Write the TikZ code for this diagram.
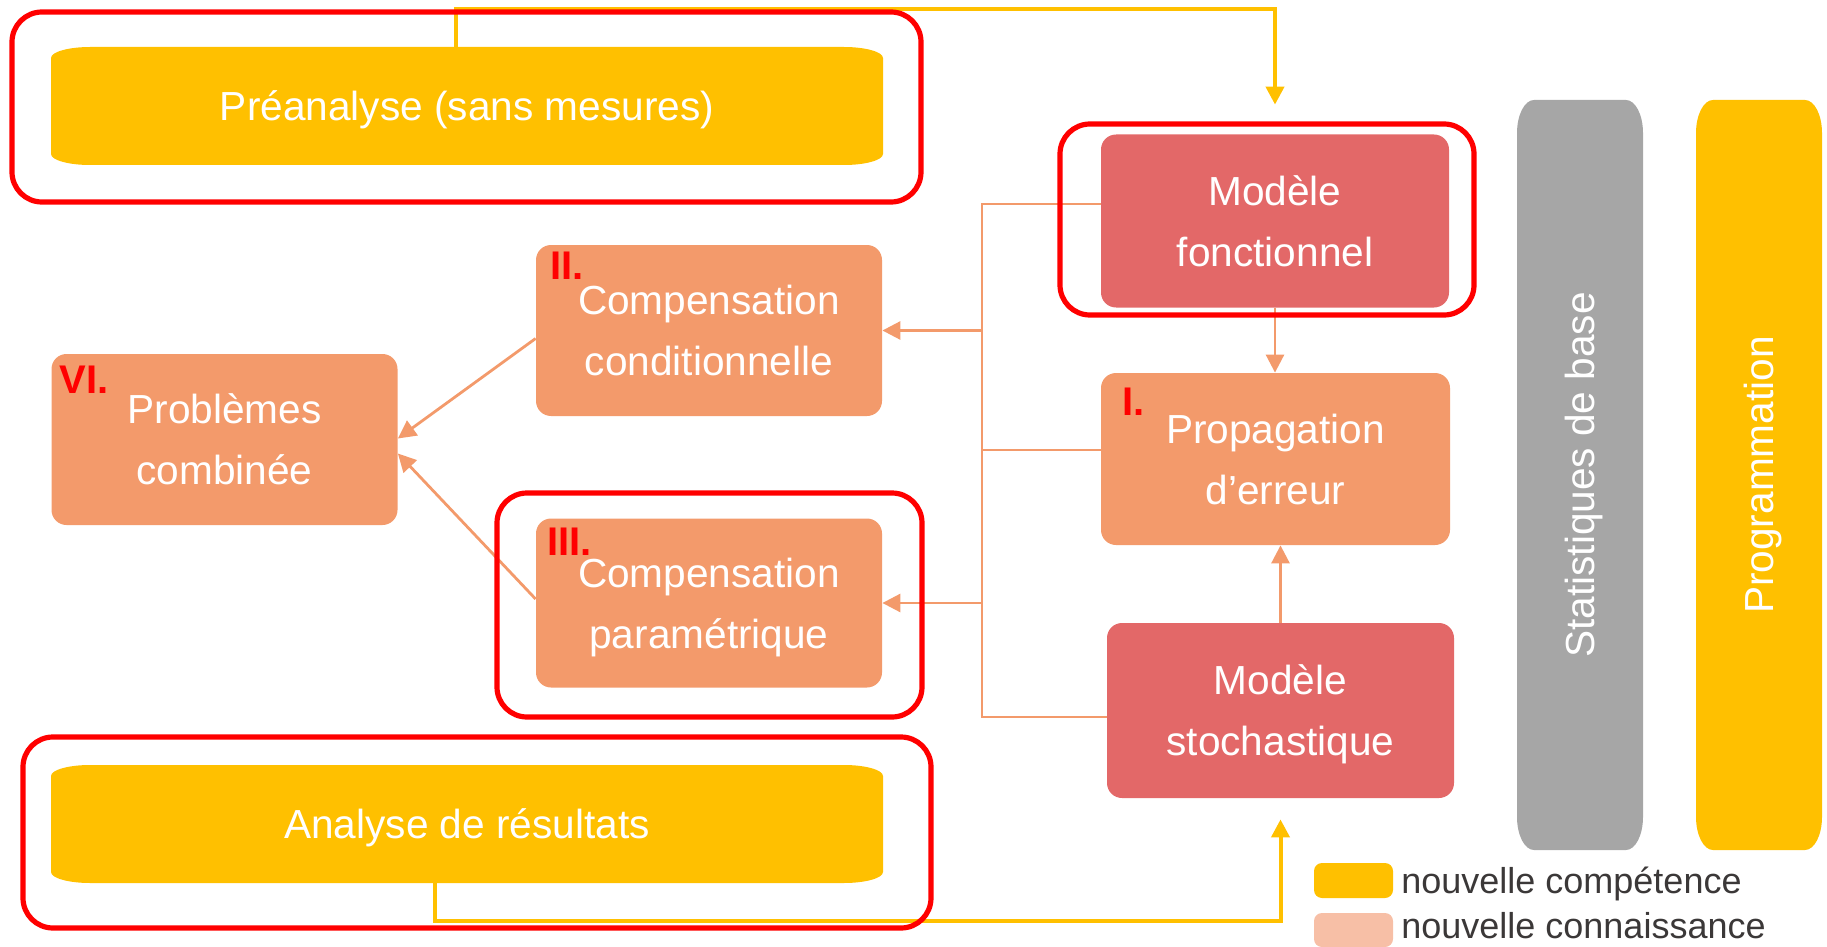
\documentclass[tikz,border=0pt]{standalone}
\usepackage{fontspec}
\setmainfont{Liberation Sans}
\usetikzlibrary{arrows.meta,positioning}
\definecolor{ylw}{HTML}{FFC000}
\definecolor{orng}{HTML}{F39A6B}
\definecolor{rose}{HTML}{E36868}
\definecolor{grey}{HTML}{A6A6A6}
\definecolor{lpink}{HTML}{F7BFA6}
\definecolor{dgray}{HTML}{3B3838}

\begin{document}
\begin{tikzpicture}[x=0.5pt,y=0.5pt,
  box/.style={rounded corners=7.5pt, fill=orng, text=white, align=center, inner sep=0pt, minimum width=173pt, minimum height=85.5pt, text depth=0pt, font=\fontsize{20.3}{30.5}\selectfont},
  modbox/.style={box, fill=rose},
  bartext/.style={text=white, inner sep=0pt, text height=14.5pt, text depth=0pt, font=\fontsize{20.3}{24}\selectfont},
  frame/.style={draw=red, line width=2.6pt, rounded corners=15pt},
  num/.style={text=red, inner sep=0pt, anchor=base west, font=\fontsize{20}{24}\selectfont\bfseries},
  orline/.style={draw=orng, line width=1.4pt},
  orarrow/.style={orline, -{Triangle[length=9pt,width=9pt]}},
  ylwarrow/.style={draw=ylw, line width=2pt, -{Triangle[length=9pt,width=9pt]}},
  legtext/.style={text=dgray, inner sep=0pt, anchor=base west, font=\fontsize{18}{22}\selectfont}]
\useasboundingbox (0,0) rectangle (1827,-947);

%draw the bars
\fill[ylw] (90,-47) -- (844,-47) arc[start angle=90,end angle=0,x radius=39,y radius=11] -- (883,-154) arc[start angle=0,end angle=-90,x radius=39,y radius=11] -- (90,-165) arc[start angle=270,end angle=180,x radius=39,y radius=11] -- (51,-58) arc[start angle=180,end angle=90,x radius=39,y radius=11] -- cycle;
\fill[ylw] (90,-765) -- (844,-765) arc[start angle=90,end angle=0,x radius=39,y radius=11] -- (883,-872) arc[start angle=0,end angle=-90,x radius=39,y radius=11] -- (90,-883) arc[start angle=270,end angle=180,x radius=39,y radius=11] -- (51,-776) arc[start angle=180,end angle=90,x radius=39,y radius=11] -- cycle;
\fill[grey] (1534,-100) -- (1626,-100) arc[start angle=90,end angle=0,x radius=17,y radius=33] -- (1643,-817) arc[start angle=0,end angle=-90,x radius=17,y radius=33] -- (1534,-850) arc[start angle=270,end angle=180,x radius=17,y radius=33] -- (1517,-133) arc[start angle=180,end angle=90,x radius=17,y radius=33] -- cycle;
\fill[ylw] (1713,-100) -- (1805,-100) arc[start angle=90,end angle=0,x radius=17,y radius=33] -- (1822,-817) arc[start angle=0,end angle=-90,x radius=17,y radius=33] -- (1713,-850) arc[start angle=270,end angle=180,x radius=17,y radius=33] -- (1696,-133) arc[start angle=180,end angle=90,x radius=17,y radius=33] -- cycle;
\node[bartext, minimum width=416pt, minimum height=59pt] (pre) at (467,-106) {Préanalyse (sans mesures)};
\node[bartext, minimum width=416pt, minimum height=59pt] (ana) at (467,-824) {Analyse de résultats};
\node[bartext, rotate=90] (stat) at (1580,-475) {Statistiques de base};
\node[bartext, rotate=90] (prog) at (1759,-475) {Programmation};

%boxes
\node[box] (cc) at (709,-330.5) {Compensation\\conditionnelle};
\node[box, minimum height=84.5pt] (cp) at (709,-603) {Compensation\\paramétrique};
\node[box] (pb) at (224.5,-439.5) {Problèmes\\combinée};
\node[modbox, minimum width=174pt, minimum height=86.5pt] (modf) at (1275,-221) {Modèle\\fonctionnel};
\node[box, minimum width=174.5pt, minimum height=86pt] (prop) at (1275.5,-459) {Propagation\\d’erreur};
\node[modbox, minimum width=173.5pt, minimum height=87.5pt] (mods) at (1280.5,-710.5) {Modèle\\stochastique};

%numbers
\node[num] (n1) at ([shift={(10.5pt,-21.5pt)}]prop.north west) {I.};
\node[num] (n2) at ([shift={(7pt,-17.5pt)}]cc.north west) {II.};
\node[num] (n3) at ([shift={(5.5pt,-18.5pt)}]cp.north west) {III.};
\node[num] (n6) at ([shift={(4pt,-20pt)}]pb.north west) {VI.};

%connectors
\coordinate (bt) at (982,-204);
\coordinate (bm) at (982,-450);
\coordinate (bb) at (982,-717);
\draw[orline] ([yshift=8.5pt]modf.west) -- (bt) -- (bb) -- ([yshift=-3.25pt]mods.west);
\draw[orline] (prop.west |- bm) -- (bm);
\draw[orarrow] (bt |- cc.east) -- (cc.east);
\draw[orarrow] (bt |- cp.east) -- (cp.east);
\draw[orarrow] ([yshift=-4pt]cc.west) -- ([yshift=0.5pt]pb.east);
\draw[orarrow] ([yshift=2pt]cp.west) -- ([yshift=-7pt]pb.east);
\draw[orarrow] (modf.south) -- (modf.south |- prop.north);
\draw[orarrow] (mods.north) -- (mods.north |- prop.south);
\draw[ylwarrow] ([xshift=-5.5pt]pre.north) |- ([yshift=62.75pt]modf.north) -- ([yshift=14.75pt]modf.north);
\draw[ylwarrow] ([xshift=-16pt]ana.south) -- ++(0,-19pt) -| ([yshift=-10.5pt]mods.south);

%red frames
\draw[frame] (12,-12) rectangle (921,-202);
\draw[frame] (1060,-124) rectangle (1474,-315);
\draw[frame] (497,-493) rectangle (922,-717);
\draw[frame] (23,-737) rectangle (931,-928);

%legend
\node[fill=ylw, rounded corners=4pt, minimum width=39.5pt, minimum height=17.5pt, inner sep=0pt] (sw1) at (1353.5,-880.5) {};
\node[fill=lpink, rounded corners=4pt, minimum width=39.5pt, minimum height=17pt, inner sep=0pt] (sw2) at (1353.5,-930) {};
\node[legtext] (l1) at (1401,-893) {nouvelle compétence};
\node[legtext] (l2) at (1401,-938) {nouvelle connaissance};
\end{tikzpicture}
\end{document}
